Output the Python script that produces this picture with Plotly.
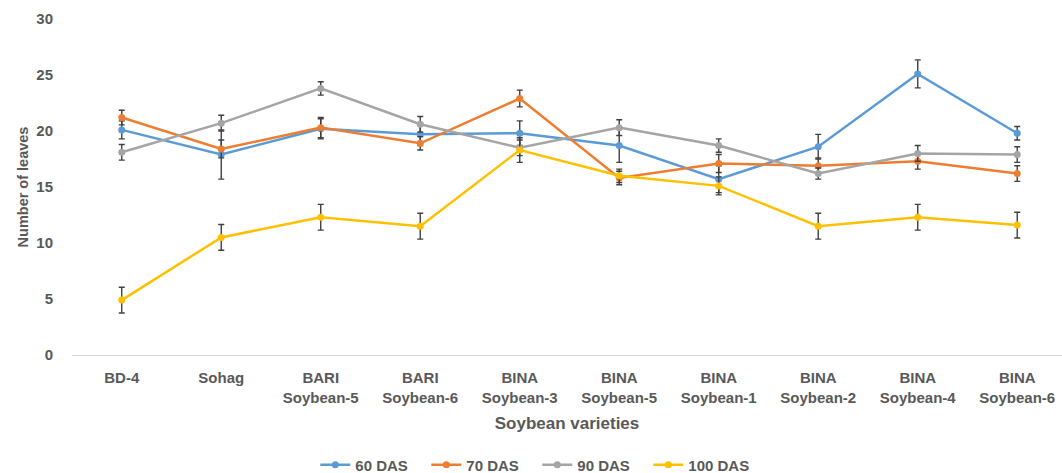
import plotly.graph_objects as go

# Soybean varieties on the x axis (two-line labels)
varieties = ["BD-4", "Sohag", "BARI<br>Soybean-5", "BARI<br>Soybean-6", "BINA<br>Soybean-3",
             "BINA<br>Soybean-5", "BINA<br>Soybean-1", "BINA<br>Soybean-2", "BINA<br>Soybean-4",
             "BINA<br>Soybean-6"]

# Mean number of leaves at each sampling date
das60 = [20.1, 17.9, 20.2, 19.7, 19.8, 18.7, 15.7, 18.6, 25.1, 19.8]
das70 = [21.2, 18.4, 20.3, 18.9, 22.9, 15.8, 17.1, 16.9, 17.3, 16.2]
das90 = [18.1, 20.7, 23.8, 20.6, 18.5, 20.3, 18.7, 16.2, 18.0, 17.9]
das100 = [4.9, 10.5, 12.3, 11.5, 18.3, 16.0, 15.1, 11.5, 12.3, 11.6]

# Standard errors
err60 = [0.8, 2.2, 0.9, 1.0, 1.1, 1.5, 1.2, 1.1, 1.25, 0.6]
err70 = [0.65, 0.8, 0.9, 0.6, 0.75, 0.6, 0.8, 0.7, 0.7, 0.7]
err90 = [0.7, 0.7, 0.6, 0.7, 0.7, 0.7, 0.6, 0.5, 0.7, 0.7]
err100 = [1.15, 1.15, 1.15, 1.15, 1.1, 0.6, 0.8, 1.15, 1.15, 1.15]

series = [
    ("60 DAS", das60, err60, "#5B9BD5"),
    ("70 DAS", das70, err70, "#ED7D31"),
    ("90 DAS", das90, err90, "#A5A5A5"),
    ("100 DAS", das100, err100, "#FFC000"),
]

text_color = "#595959"
font_family = "Liberation Sans, Arial, sans-serif"

fig = go.Figure()
for name, vals, errs, color in series:
    fig.add_trace(go.Scatter(
        x=varieties, y=vals, name=name, mode="lines+markers",
        line=dict(color=color, width=2.5),
        marker=dict(color=color, size=7),
        error_y=dict(type="data", array=errs, visible=True,
                     color="#404040", thickness=1.4, width=3),
    ))

fig.update_layout(
    width=1062, height=473,
    margin=dict(l=72, r=0, t=19, b=118),
    paper_bgcolor="white", plot_bgcolor="white",
    font=dict(family=font_family, color=text_color, size=14),
    showlegend=True,
    legend=dict(orientation="h", x=0.47, xanchor="center",
                yref="container", y=0.017, yanchor="middle",
                font=dict(size=15, weight="bold", color=text_color),
                itemwidth=30, tracegroupgap=0,
                entrywidth=66, entrywidthmode="pixels"),
    xaxis=dict(
        range=[-0.5, 9.45],
        showgrid=False, showline=True, linecolor="#D9D9D9", linewidth=1,
        ticks="", ticklabelstandoff=9,
        tickfont=dict(size=15, weight="bold", color=text_color),
        title=dict(text="Soybean varieties", font=dict(size=17, weight="bold", color=text_color),
                   standoff=12),
    ),
    yaxis=dict(
        range=[0, 30], dtick=5, showgrid=False, zeroline=False, showline=False,
        ticks="", ticklabelstandoff=18,
        tickfont=dict(size=15, weight="bold", color=text_color),
        title=dict(text="Number of leaves", font=dict(size=14.5, weight="bold", color=text_color),
                   standoff=4),
    ),
)

fig.write_html("out.html")
